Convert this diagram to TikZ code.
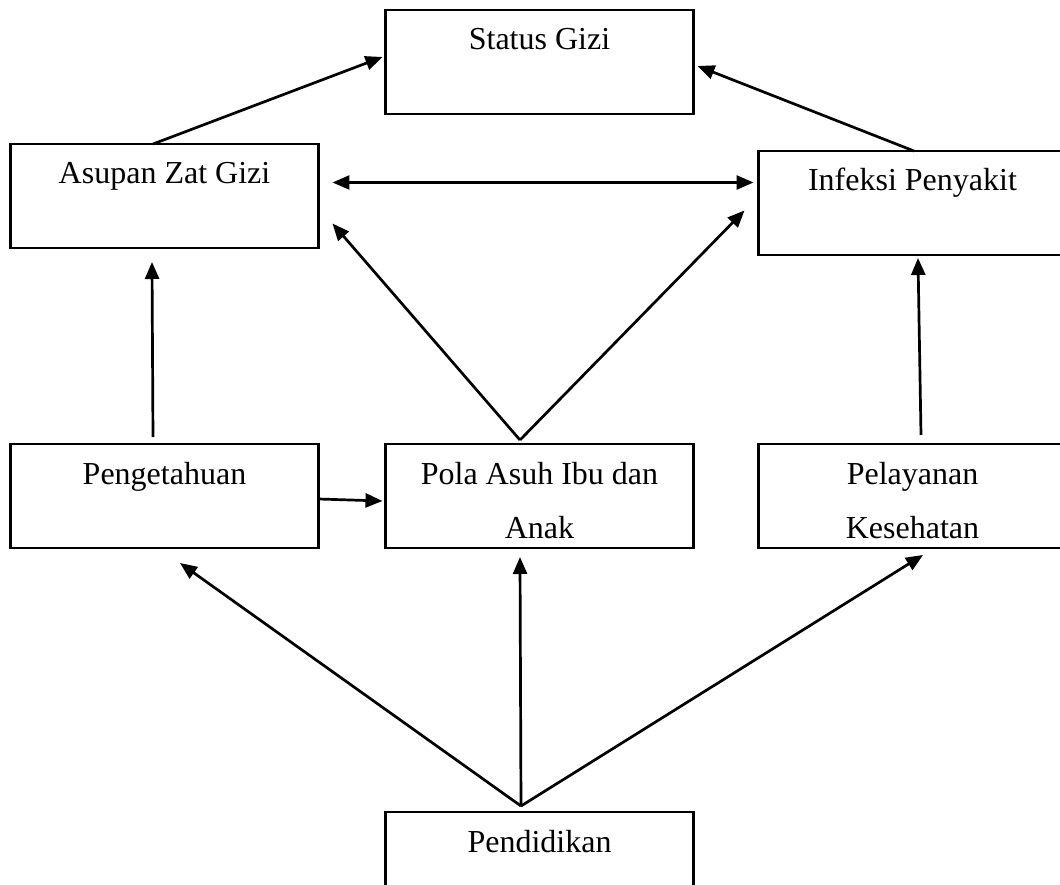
\documentclass[tikz,border=0pt]{standalone}
\usepackage{fontspec}
\setmainfont{Liberation Serif}
\usetikzlibrary{positioning,arrows.meta,calc}

\begin{document}
\begin{tikzpicture}[
  x=1pt,y=1pt,
  >={Triangle[length=17pt,width=14pt]},
  every node/.style={font=\fontsize{32}{54}\selectfont},
  box/.style={rectangle,draw,line width=2.7pt,outer sep=0pt,inner sep=0pt,minimum width=308pt,minimum height=104pt,align=center,text height=40pt,text depth=64pt},
  twobox/.style={box,text height=94pt,text depth=10pt},
  arr/.style={->,line width=2.7pt}
]
\useasboundingbox (-539.5,-388) rectangle (520.5,496);
% Boxes
\node[twobox] (pola) at (0,0) {Pola Asuh Ibu dan\\Anak};
\node[box, left=67pt of pola] (tahu) {Pengetahuan};
\node[twobox, right=65pt of pola] (layan) {Pelayanan\\Kesehatan};
\node[box, below=264pt of pola] (didik) {Pendidikan};
\node[box, above=196pt of tahu] (asupan) {Asupan Zat Gizi};
\node[box, above=189pt of layan] (infeksi) {Infeksi Penyakit};
\node[box, above=330pt of pola] (status) {Status Gizi};

% Upper arrows
\draw[arr] ($(asupan.north)+(-11.5,0)$) -- ($(status.west)+(-3,5)$);
\draw[arr] ($(infeksi.north)+(1.5,0)$) -- ($(status.east)+(4,-4)$);
\draw[arr,<->] ($(asupan.east)+(14,13.5)$) -- ($(infeksi.west)+(-5,20.5)$);

% Pola asuh
\draw[arr] ($(pola.north)+(-19.5,4)$) -- ($(asupan.east)+(14,-27.5)$);
\draw[arr] ($(pola.north)+(-19.5,4)$) -- ($(infeksi.west)+(-14,-7.5)$);
\draw[arr] ($(tahu.north)+(-11.5,7)$) -- ($(asupan.south)+(-12.5,-14)$);
\draw[arr] ($(layan.north)+(8.5,9)$) -- ($(infeksi.south)+(5.5,-3)$);
\draw[arr] ($(tahu.east)+(0,-3)$) -- ($(pola.west)+(-3,-5)$);

% Pendidikan
\draw[arr] ($(didik.north)+(-18.5,6)$) -- ($(tahu.south)+(15.5,-15)$);
\draw[arr] ($(didik.north)+(-18.5,6)$) -- ($(pola.south)+(-19.5,-9)$);
\draw[arr] ($(didik.north)+(-18.5,6)$) -- ($(layan.south)+(10.5,-7)$);
\end{tikzpicture}
\end{document}
